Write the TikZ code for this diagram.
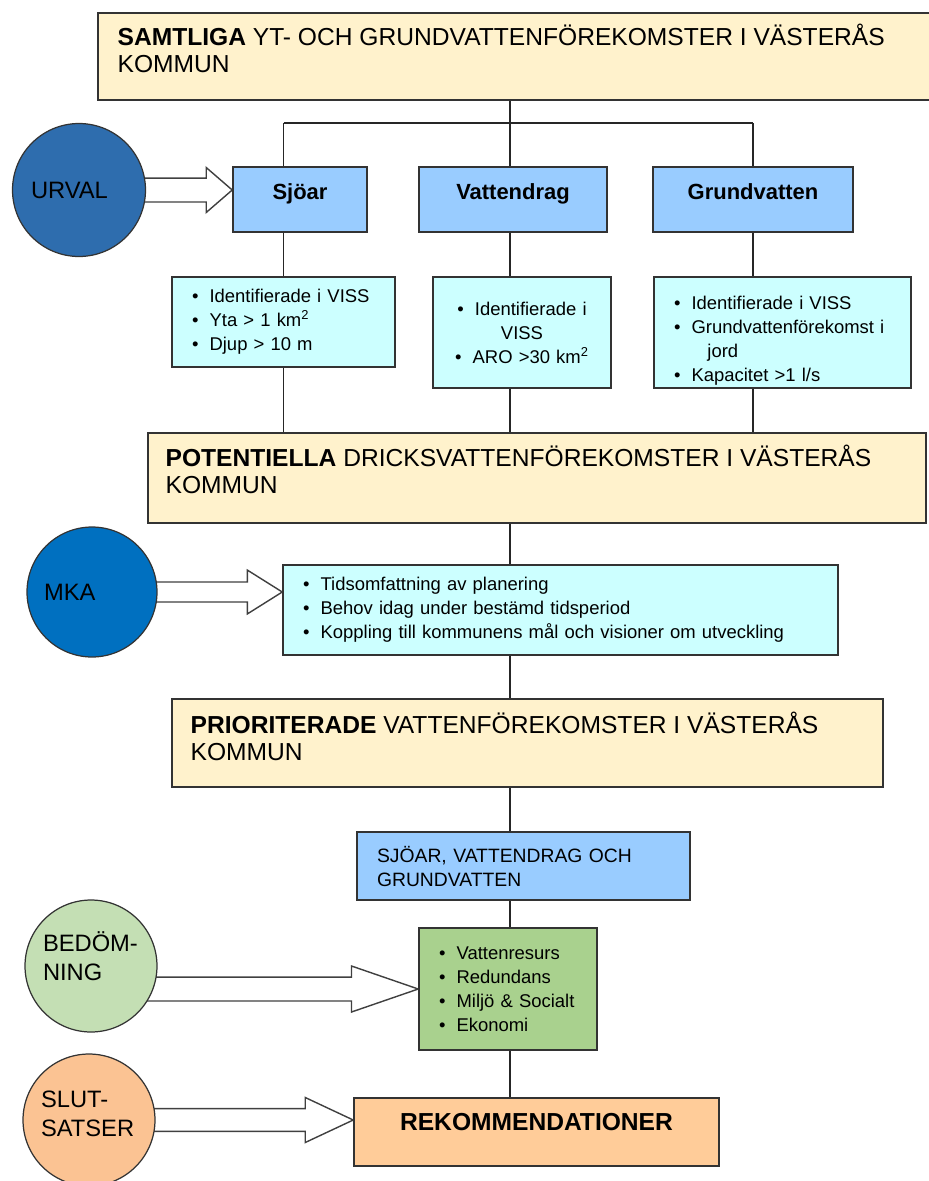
\documentclass[tikz,border=0pt]{standalone}
\usepackage{fontspec}
\setmainfont{Liberation Sans}
\usepackage{tikz}
\usetikzlibrary{calc,backgrounds}

\definecolor{sand}{HTML}{FFF2CC}
\definecolor{himmel}{HTML}{99CCFF}
\definecolor{is}{HTML}{CCFFFF}
\definecolor{urvalblue}{HTML}{2E6DAE}
\definecolor{mkablue}{HTML}{0070C0}
\definecolor{ljusgron}{HTML}{C4DFB4}
\definecolor{gron}{HTML}{A9D18E}
\definecolor{persika}{HTML}{FFCC99}
\definecolor{slutfarg}{HTML}{FBC393}

\newcommand{\pkt}{\makebox[10pt][l]{\textbullet}}
\newcommand{\tjockpil}[5]{%
    \draw[pil] let \p1=(#1.center), \p2=(#2) in
        (\x1,\y2+#3) -- (\x2-#5,\y2+#3) -- (\x2-#5,\y2+#4) -- (\p2)
        -- (\x2-#5,\y2-#4) -- (\x2-#5,\y2-#3) -- (\x1,\y2-#3);%
}

\begin{document}
\begin{tikzpicture}[x=0.02cm,y=-0.02cm,
    box/.style={draw=black!80, line width=0.9pt, rectangle},
    band/.style={box, fill=sand},
    bandtext/.style={anchor=north west, align=left, inner sep=0pt, font=\fontsize{14}{15.9}\selectfont},
    rubrik/.style={box, fill=himmel, font=\fontsize{12.5}{15}\selectfont\bfseries, text height=9pt, text depth=8.6pt, minimum height=1.3cm},
    lista/.style={box, align=left, inner xsep=0.4cm, font=\fontsize{10.5}{13.66}\selectfont},
    rund/.style={circle, draw=black!80, line width=0.7pt, text width=1.92cm, align=left, inner sep=0pt, font=\fontsize{13.5}{16.5}\selectfont},
    forbind/.style={draw=black!85, line width=0.7pt},
    pil/.style={draw=black!75, line width=0.8pt, fill=white}]
    \useasboundingbox (0,0) rectangle (929,1181);

    \node[band, minimum width=16.74cm, minimum height=1.74cm] (top) at (516.5,56.5) {};
    \node[bandtext] (toptxt) at ([xshift=0.4cm, yshift=-0.22cm]top.north west) {\textbf{SAMTLIGA} YT- OCH GRUNDVATTENFÖREKOMSTER I VÄSTERÅS\\KOMMUN};

    \node[rubrik, minimum width=2.68cm] (sjoar) at (300,199.5) {Sjöar};
    \node[rubrik, minimum width=3.76cm] (vatt) at (513,199.5) {Vattendrag};
    \node[rubrik, minimum width=4cm] (grund) at (753,199.5) {Grundvatten};

    \node[lista, fill=is, text width=3.66cm, minimum height=1.8cm] (sjoarlist) at (283.5,322) {\pkt Identifierade i VISS\\ \pkt Yta > 1 km\textsuperscript{2}\\ \pkt Djup > 10 m};
    \node[lista, fill=is, align=center, text width=2.76cm, minimum height=2.22cm] (vattlist) at (522,332.5) {\pkt Identifierade i\\ VISS\\ \pkt ARO >30 km\textsuperscript{2}};
    \node[lista, fill=is, text width=4.34cm, minimum height=2.22cm, inner ysep=0pt] (grundlist) at (782.5,332.5) {\rule{0pt}{16.8pt}\pkt Identifierade i VISS\\ \pkt Grundvattenförekomst i\\ \hspace*{19pt}jord\\ \pkt Kapacitet >1 l/s};

    \node[band, minimum width=15.56cm, minimum height=1.8cm] (pot) at (537,478) {};
    \node[bandtext] (pottxt) at ([xshift=0.36cm, yshift=-0.24cm]pot.north west) {\textbf{POTENTIELLA} DRICKSVATTENFÖREKOMSTER I VÄSTERÅS\\KOMMUN};

    \node[lista, fill=is, text width=10.3cm, minimum height=1.8cm] (mkalist) at (560.5,610) {\pkt Tidsomfattning av planering\\ \pkt Behov idag under bestämd tidsperiod\\ \pkt Koppling till kommunens mål och visioner om utveckling};

    \node[band, minimum width=14.22cm, minimum height=1.76cm] (prio) at (527.5,743) {};
    \node[bandtext] (priotxt) at ([xshift=0.38cm, yshift=-0.26cm]prio.north west) {\textbf{PRIORITERADE} VATTENFÖREKOMSTER I VÄSTERÅS\\KOMMUN};

    \node[lista, fill=himmel, text width=5.86cm, minimum height=1.36cm, font=\fontsize{11}{13.66}\selectfont] (svg) at (523.5,866) {SJÖAR, VATTENDRAG OCH\\GRUNDVATTEN};
    \node[lista, fill=gron, text width=2.76cm, minimum height=2.44cm] (miljo) at (508,989) {\pkt Vattenresurs\\ \pkt Redundans\\ \pkt Miljö \& Socialt\\ \pkt Ekonomi};
    \node[box, fill=persika, minimum width=7.3cm, minimum height=1.36cm, font=\fontsize{14}{16}\selectfont\bfseries, text height=10pt, text depth=11.4pt] (rek) at (536.5,1132) {REKOMMENDATIONER};

    \node[rund, fill=urvalblue, minimum size=2.66cm] (urval) at (79,190) {URVAL};
    \node[rund, fill=mkablue, minimum size=2.6cm] (mka) at (92,592) {MKA};
    \node[rund, fill=ljusgron, minimum size=2.64cm] (bedom) at (91,966) {BEDÖM-\\NING\rule[-11.4pt]{0pt}{11.4pt}};
    \node[rund, fill=slutfarg, minimum size=2.64cm] (slut) at (89,1120) {SLUT-\\SATSER\rule[-6.8pt]{0pt}{6.8pt}};

    \coordinate (spine) at (510,0);
    \coordinate (bar) at (0,123);
    \draw[forbind] (spine |- top.south) -- (spine |- bar);
    \draw[forbind] (sjoarlist |- bar) -- (grund |- bar);
    \foreach \c/\h/\l in {sjoarlist/sjoar/sjoarlist, spine/vatt/vattlist, grund/grund/grundlist}{
        \draw[forbind] (\c |- bar) -- (\c |- \h.north);
        \draw[forbind] (\c |- \h.south) -- (\c |- \l.north);
        \draw[forbind] (\c |- \l.south) -- (\c |- pot.north);
    }
    \foreach \a/\b in {pot/mkalist, mkalist/prio, prio/svg, svg/miljo, miljo/rek}{
        \draw[forbind] (spine |- \a.south) -- (spine |- \b.north);
    }

    \begin{scope}[on background layer]
        \tjockpil{urval}{sjoar.west |- urval}{6.8pt}{12.8pt}{14.8pt}
        \tjockpil{mka}{mkalist.west |- mka}{5.7pt}{12.5pt}{19.9pt}
        \tjockpil{bedom}{miljo.west}{6.8pt}{13.1pt}{38pt}
        \tjockpil{slut}{rek.west |- slut}{6.5pt}{12.8pt}{27.3pt}
    \end{scope}
\end{tikzpicture}
\end{document}
